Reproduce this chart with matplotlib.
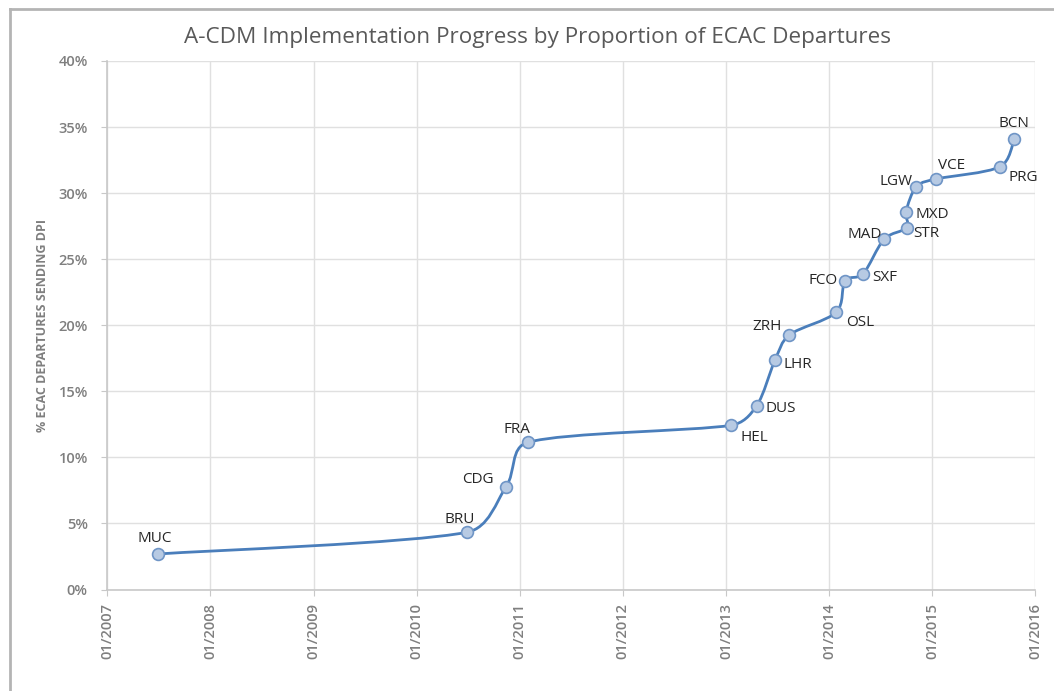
import numpy as np
import pandas as pd
import matplotlib
matplotlib.use("Agg")
from matplotlib import pyplot as plt
from matplotlib.path import Path
from matplotlib.patches import PathPatch
import matplotlib.dates as mdates
from matplotlib.ticker import FuncFormatter, MultipleLocator
from matplotlib.lines import Line2D

airports = ["MUC", "BRU", "CDG", "FRA", "HEL", "DUS", "LHR", "ZRH", "OSL", "FCO",
            "SXF", "MAD", "STR", "MXD", "LGW", "VCE", "PRG", "BCN"]
dates = ["2007-07-01", "2010-06-28", "2010-11-14", "2011-01-30", "2013-01-19",
         "2013-04-20", "2013-06-24", "2013-08-14", "2014-01-26", "2014-02-27",
         "2014-05-01", "2014-07-16", "2014-10-03", "2014-10-01", "2014-11-07",
         "2015-01-16", "2015-08-30", "2015-10-20"]
pct = [2.69, 4.33, 7.78, 11.14, 12.43, 13.91, 17.37, 19.27, 20.98, 23.35,
       23.86, 26.53, 27.39, 28.60, 30.49, 31.07, 32.00, 34.10]

# label placement (offset in points, horizontal alignment)
label_pos = {
    "MUC": ((-3, 6), "center"), "BRU": ((-5, 4), "center"), "CDG": ((-9, 5), "right"),
    "FRA": ((-8, 4), "center"), "HEL": ((17, -14), "center"), "DUS": ((6, -2), "left"),
    "LHR": ((6, -3), "left"), "ZRH": ((-16, 1), "center"), "OSL": ((7, -7), "left"),
    "FCO": ((-5, 0), "right"), "SXF": ((7, -2), "left"), "MAD": ((-2, 3), "right"),
    "STR": ((5, -4), "left"), "MXD": ((7, -2), "left"), "LGW": ((-3, 4), "right"),
    "VCE": ((11, 4), "center"), "PRG": ((6, -8), "left"), "BCN": ((0, 6), "center"),
}

x = mdates.date2num(pd.to_datetime(dates))
y = np.array(pct)

plt.rcParams['font.family'] = ['Open Sans', 'DejaVu Sans']

fig = plt.figure(figsize=(10.54, 6.91), dpi=100)
ax = fig.add_axes([107.3 / 1054, 1 - 589.5 / 691, (1035 - 107.3) / 1054, (589.5 - 61) / 691])

# outer chart frame (top and left edges visible)
fig.add_artist(Line2D([10 / 1054, 10 / 1054], [0, 1 - 9 / 691], transform=fig.transFigure,
                      color="#b4b4b4", lw=2))
fig.add_artist(Line2D([10 / 1054, 1], [1 - 9 / 691, 1 - 9 / 691], transform=fig.transFigure,
                      color="#b4b4b4", lw=2))

ax.set_xlim(mdates.date2num(pd.Timestamp("2007-01-01")), mdates.date2num(pd.Timestamp("2016-01-01")))
ax.set_ylim(0, 40)

# smoothed line through the points (catmull-rom tangents, clamped to segment length)
sx = 927.7 / (ax.get_xlim()[1] - ax.get_xlim()[0])
sy = 528.5 / 40.0
P = np.column_stack([x * sx, y * sy])
n = len(P)
k = 0.38
verts = [(x[0], y[0])]
codes = [Path.MOVETO]


def tangent(i):
    d = P[min(i + 1, n - 1)] - P[max(i - 1, 0)]
    L = np.hypot(*d)
    return (d / L if L > 0 else d), L / 6


for i in range(n - 1):
    p1, p2 = P[i], P[i + 1]
    seg = np.hypot(*(p2 - p1))
    t1, l1 = tangent(i)
    t2, l2 = tangent(i + 1)
    c1 = p1 + t1 * min(l1, seg * k)
    c2 = p2 - t2 * min(l2, seg * k)
    for c in (c1, c2, p2):
        verts.append((c[0] / sx, c[1] / sy))
    codes += [Path.CURVE4] * 3
ax.add_patch(PathPatch(Path(verts, codes), facecolor="none", edgecolor="#4a7ebb",
                       lw=2.0, zorder=3, capstyle="round", joinstyle="round"))
ax.plot(x, y, linestyle="none", marker="o", markersize=8.5, markerfacecolor="#b7cae3",
        markeredgecolor="#6f95c6", markeredgewidth=1.2, zorder=4)

for xi, yi, name in zip(x, y, airports):
    off, ha = label_pos[name]
    ax.annotate(name, (xi, yi), xytext=off, textcoords="offset points", ha=ha,
                va="center" if ha != "center" else "bottom", fontsize=11,
                color="#262626", zorder=5)

ax.xaxis.set_major_locator(mdates.YearLocator())
ax.xaxis.set_major_formatter(mdates.DateFormatter("%m/%Y"))
ax.yaxis.set_major_locator(MultipleLocator(5))
ax.yaxis.set_major_formatter(FuncFormatter(lambda v, p: f"{v:.0f}%"))

ax.grid(True, color="#e0e0e0", lw=1.0)
ax.set_axisbelow(True)
for s in ["top", "right"]:
    ax.spines[s].set_visible(False)
for s in ["left", "bottom"]:
    ax.spines[s].set_color("#c8c8c8")
    ax.spines[s].set_linewidth(1.2)
ax.tick_params(axis="both", colors="#c8c8c8", length=4, labelcolor="#7f7f7f", labelsize=10.5)
ax.tick_params(axis="x", rotation=90, pad=6)
ax.tick_params(axis="y", pad=10)
for lbl in ax.get_xticklabels() + ax.get_yticklabels():
    lbl.set_fontweight("semibold")

ax.set_ylabel("% ECAC DEPARTURES SENDING DPI", fontsize=9, color="#7f7f7f",
              fontweight="bold", labelpad=7)
fig.text(537 / 1054, 1 - 37 / 691, "A-CDM Implementation Progress by Proportion of ECAC Departures",
         ha="center", va="center", fontsize=16.2, color="#595959")

fig.savefig("out.png", dpi=100, facecolor="white")
